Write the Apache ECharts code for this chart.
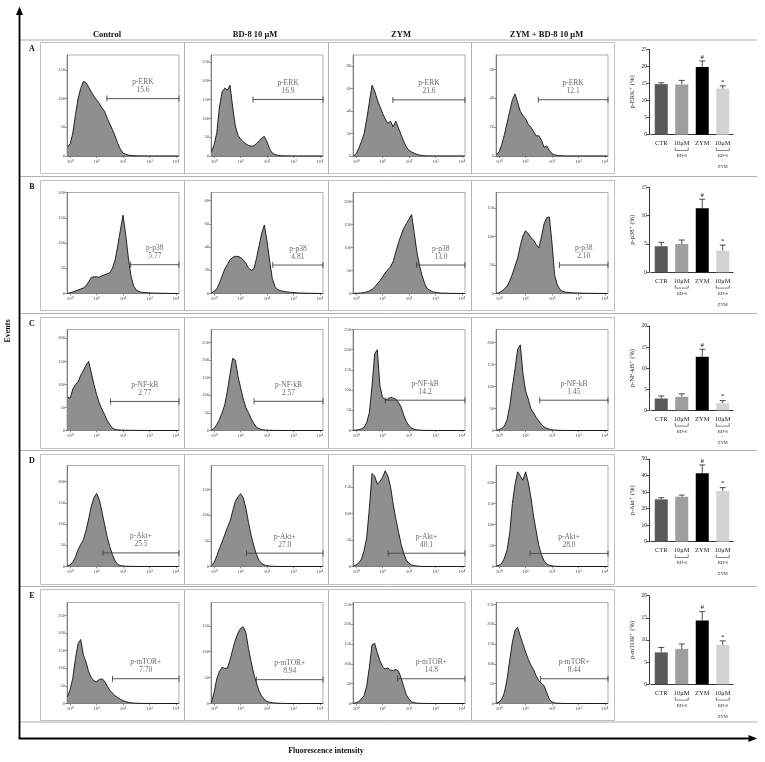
<!DOCTYPE html>
<html>
<head>
<meta charset="utf-8">
<script src="https://cdn.jsdelivr.net/npm/echarts@6/dist/echarts.min.js"></script>
<style>html,body{margin:0;padding:0;background:#fff;}#chart{width:765px;height:762px;}</style>
</head>
<body>
<div id="chart"></div>
<script>
// ---------------- DATA ----------------
// shared log10 fluorescence positions for the histograms
const logGrid = [-0.1,0,0.1,0.2,0.3,0.4,0.5,0.6,0.7,0.8,0.9,1.0,1.1,1.2,1.3,1.4,1.5,1.6,1.7,1.8,1.9,2.0,2.1,2.2,2.3,2.4,2.5,2.6,2.7,2.9,3.2,3.6,4.1];

const erkControl = [16,21,40,72,100,118,130,128,120,112, 104,98,92,84,78,66,56,46,35,22, 12,5,3,1.5,1,0.5,0.3,0.2,0.1, 0,0,0,0];
const erkBD8     = [11,30,62,130,170,180,175,188,130,80, 55,45,38,32,28,26,27,33,40,48, 52,38,18,8,4,2,1,0.5,0.3, 0.2,0,0,0];
const erkZYM     = [0,2,7,13,20,33,48,63,58,50, 44,38,33,29,31,26,31,25,19,13, 8,5,3.5,2.5,1.5,0.8,0.4,0.2,0.1, 0,0,0,0];
const erkCombo   = [1,3,8,15,23,31,39,43,37,31, 28,26,22,20,17,14,14,11,6,7, 4,1.5,0.8,0.4,0.2,0.1,0,0,0, 0,0,0,0];

const p38Control = [0.5,1.5,3,5,7,9,11,15,23,32, 33,33,32,35,37,39,41,50,66,94, 125,155,118,72,35,15,7,4,2.5, 1.5,0.8,0.3,0];
const p38BD8     = [0.5,2,4,9,15,21,25,29,31,32, 32,31,29,26,22,20,21,30,41,52, 59,45,28,13,6,3.5,2.5,2,1.5, 1,0.5,0.2,0];
const p38ZYM     = [0.3,0.5,0.8,1.2,2,3.5,5.5,9,14,21, 28,36,45,52,58,70,90,110,127,142, 152,162,172,131,90,60,38,20,10, 3.5,1,0.3,0];
const p38Combo   = [0.5,1.5,4,8,13,22,34,48,62,84, 101,110,105,98,94,86,80,99,122,133, 134,88,32,15,7,4,2.5,2,1.5, 1,0.5,0.2,0];

const nfkbControl = [72,70,90,100,105,120,130,142,150,125, 100,78,60,46,35,22,13,5,2.5,1.5, 1,0.8,0.6,0.5,0.4,0.3,0.3,0.2,0.2, 0.1,0,0,0];
const nfkbBD8     = [1,6,17,32,50,73,112,160,205,200, 155,122,90,65,50,34,20,10,5,3, 1.5,1,0.6,0.4,0.3,0.2,0.1,0,0, 0,0,0,0];
const nfkbZYM     = [0.5,1,2,4,8,20,45,110,190,200, 110,82,76,78,82,80,78,70,58,38, 22,12,6,3,1.5,1,0.5,0.3,0.2, 0.1,0,0,0];
const nfkbCombo   = [0.5,2,5,10,25,55,100,140,185,195, 130,90,72,50,40,30,22,14,8,5, 3,1.5,1,0.5,0.3,0.2,0.1,0,0, 0,0,0,0];

const aktControl = [1,4,10,22,40,52,63,85,112,142, 162,172,158,130,100,70,47,28,13,5, 2.5,1.2,0.8,0.5,0.3,0.2,0.1,0,0, 0,0,0,0];
const aktBD8     = [2,8,21,35,48,62,76,88,108,127, 136,142,134,114,86,61,40,24,12,6, 3,1.5,1,0.6,0.3,0.2,0.1,0,0, 0,0,0,0];
const aktZYM     = [1,3,7,14,30,55,110,175,170,155, 160,168,180,170,150,118,90,66,42,25, 12,6,3,1.5,0.8,0.4,0.2,0.1,0, 0,0,0,0];
const aktCombo   = [1,3,8,20,40,80,150,195,225,215, 205,225,200,165,120,85,50,28,14,6, 3,1.5,0.8,0.4,0.2,0.1,0,0,0, 0,0,0,0];

const mtorControl = [19,40,72,128,170,182,138,118,90,74, 64,62,68,70,64,50,38,30,22,17, 12,8,5.5,3.5,2,1.2,0.8,0.5,0.3, 0.2,0,0,0];
const mtorBD8     = [2,22,48,62,70,68,68,84,104,122, 136,145,148,137,106,80,57,40,24,14, 8,4,2.5,1.5,1,0.6,0.3,0.2,0.1, 0,0,0,0];
const mtorZYM     = [0.5,2,5,12,20,45,92,148,152,128, 108,93,87,90,84,83,86,82,65,43, 22,11,4.5,2,1,0.6,0.3,0.2,0.1, 0,0,0,0];
const mtorCombo   = [1,4,11,28,62,110,155,185,192,170, 150,130,112,97,86,70,58,51,45,28, 11,4,1.5,0.8,0.5,0.3,0.1,0,0, 0,0,0,0];

// histogram count-axis ranges and tick steps
const histYMax  = [[176,268,90,70],[200,87,220,177],[219,287,250,230],[238,197,190,240],[287,195,255,255]];
const histYStep = [[50,50,20,20],[50,20,50,50],[50,50,50,50],[50,50,50,50],[50,50,50,50]];

// gates: start (log10) and level (count), percentages
const gateStart = [[1.39,1.47,1.39,1.48],[2.29,2.22,2.29,2.28],[1.53,1.51,1.1,1.54],[1.24,1.22,1.21,1.17],[1.6,1.6,1.57,1.56]];
const gateLevel = [[100,150,50,39],[57,24.5,62,50],[63,83,75,69],[32,26,25,31],[70.5,46,62.5,62.5]];
const gatePct = [["15.6","16.9","21.6","12.1"],["5.77","4.81","13.0","2.10"],["2.77","2.57","14.2","1.45"],["25.5","27.0","40.1","28.0"],["7.70","8.94","14.8","8.44"]];
const markers = ["p-ERK","p-p38","p-NF-kB","p-Akt+","p-mTOR+"];

const columnHeaders = ["Control","BD-8 10 μM","ZYM","ZYM + BD-8 10 μM"];
const rowLetters = ["A","B","C","D","E"];
const decades = [0,1,2,3,4];
const decadeLabels = ["10⁰","10¹","10²","10³","10⁴"];

// bar charts
const barCategories = ['CTR','10μM','ZYM','10μM'];
const barSubLabels = ['', 'BD-8', '', 'BD-8\n+\nZYM'];
const barTitles = ['p-ERK⁺ (%)','p-p38⁺ (%)','p-NF-kB⁺ (%)','p-Akt⁺ (%)','p-mTOR⁺ (%)'];
const erkMean = [14.8,14.7,19.8,13.5],  erkErr = [0.4,1.2,1.8,0.8];
const p38Mean = [4.6,5.0,11.3,3.8],     p38Err = [0.7,0.7,1.6,1.0];
const nfkbMean = [2.8,3.2,12.7,1.7],    nfkbErr = [0.6,0.7,1.8,0.6];
const aktMean = [25.6,27.2,41.4,30.7],  aktErr = [1.0,1.0,5.0,2.0];
const mtorMean = [7.2,8.0,14.4,8.9],    mtorErr = [1.1,1.1,2.0,0.9];
const sigMarks = ['','','#','*'];
const barAxisMax = [25,15,20,50,20];
const barAxisStep = [5,5,5,10,5];

// ---------------- LAYOUT / STYLE ----------------
const FONT = '"Liberation Serif","DejaVu Serif",serif';
const hist = [
  [erkControl, erkBD8, erkZYM, erkCombo],
  [p38Control, p38BD8, p38ZYM, p38Combo],
  [nfkbControl, nfkbBD8, nfkbZYM, nfkbCombo],
  [aktControl, aktBD8, aktZYM, aktCombo],
  [mtorControl, mtorBD8, mtorZYM, mtorCombo]
];
const means = [erkMean, p38Mean, nfkbMean, aktMean, mtorMean];
const errs = [erkErr, p38Err, nfkbErr, aktErr, mtorErr];
const barColors = ['#5a5a5a','#9e9e9e','#000000','#d3d3d3'];

const cellX = [40, 184, 328, 471];
const cellW = [144, 144, 143, 143];
const plotOff = [27, 27, 25, 25];
const cellTop = [42, 180, 317, 454, 589];
const cellBot = [173, 310, 448, 584, 720];
const plotTop = [55, 192.5, 329.5, 465.5, 602.5];
const barTop = [49.3, 187.3, 326, 459, 595.7];
const barBot = [134.7, 272.3, 410.3, 541.7, 684.3];
const sepY = [40, 176.5, 313.5, 450.5, 586.5, 722];
const X_MIN = -0.12, X_MAX = 4.12;

const option = { animation: false, grid: [], xAxis: [], yAxis: [], series: [], graphic: [] };
let g = 0;
const axisCol = '#555';

for (let r = 0; r < 5; r++) {
  for (let c = 0; c < 4; c++) {
    option.grid.push({ left: cellX[c] + plotOff[c], top: plotTop[r], width: 112, height: 101,
      show: true, borderColor: '#8a8a8a', borderWidth: 0.7, backgroundColor: 'rgba(0,0,0,0)' });
    const ticks = [];
    for (let t = 0; t <= histYMax[r][c] + 1e-9; t += histYStep[r][c]) ticks.push(t);
    option.xAxis.push({ type: 'value', gridIndex: g, min: X_MIN, max: X_MAX,
      splitLine: { show: false },
      axisLine: { show: true, onZero: false, lineStyle: { color: axisCol, width: 0.7 } },
      axisTick: { show: true, customValues: decades, length: 2, lineStyle: { color: axisCol, width: 0.6 } },
      axisLabel: { customValues: decades, formatter: v => decadeLabels[Math.round(v)], fontSize: 5, color: '#444', margin: 3, fontFamily: FONT }
    });
    option.yAxis.push({ type: 'value', gridIndex: g, min: 0, max: histYMax[r][c],
      splitLine: { show: false },
      axisLine: { show: true, onZero: false, lineStyle: { color: axisCol, width: 0.7 } },
      axisTick: { show: true, customValues: ticks, length: 2, lineStyle: { color: axisCol, width: 0.6 } },
      axisLabel: { customValues: ticks, fontSize: 4.5, color: '#444', margin: 2, fontFamily: FONT }
    });
    option.series.push({ type: 'line', xAxisIndex: g, yAxisIndex: g, silent: true,
      data: logGrid.map((x, i) => [x, hist[r][c][i]]), symbol: 'none',
      lineStyle: { color: '#111', width: 0.9 }, areaStyle: { color: '#8f8f8f', opacity: 1 } });
    option.series.push({ type: 'line', xAxisIndex: g, yAxisIndex: g, silent: true, clip: false,
      data: [[gateStart[r][c], gateLevel[r][c]], [X_MAX, gateLevel[r][c]]],
      symbol: 'rect', symbolSize: [0.9, 6], showSymbol: true,
      itemStyle: { color: '#444' }, lineStyle: { color: '#444', width: 0.9 } });
    option.series.push({ type: 'scatter', xAxisIndex: g, yAxisIndex: g, silent: true,
      data: [[(gateStart[r][c] + X_MAX) / 2, gateLevel[r][c]]], symbolSize: 1,
      itemStyle: { color: 'rgba(0,0,0,0)' },
      label: { show: true, position: 'top', distance: 4, formatter: markers[r] + '\n' + gatePct[r][c],
        fontSize: 7.5, lineHeight: 8, color: '#444', fontFamily: FONT } });
    g++;
  }
}

// bar charts
for (let r = 0; r < 5; r++) {
  option.grid.push({ left: 651, width: 82, top: barTop[r], height: barBot[r] - barTop[r] });
  option.xAxis.push({ type: 'category', gridIndex: g, data: barCategories,
    axisLine: { lineStyle: { color: '#000', width: 0.8 } },
    axisTick: { alignWithLabel: true, length: 2, lineStyle: { color: '#000', width: 0.7 } },
    axisLabel: { interval: 0, margin: 4, color: '#222', fontFamily: FONT,
      formatter: (v, i) => {
        let s = '{m|' + v + '}';
        if (barSubLabels[i]) s += '\n{g| }\n' + barSubLabels[i].split('\n').map(t => '{s|' + t + '}').join('\n');
        return s;
      },
      rich: { m: { fontSize: 6.5, lineHeight: 9, fontFamily: FONT, color: '#222' },
              g: { fontSize: 4, lineHeight: 5.3 },
              s: { fontSize: 4.5, lineHeight: 5.5, fontFamily: FONT, color: '#333' } } }
  });
  option.yAxis.push({ type: 'value', gridIndex: g, min: 0, max: barAxisMax[r], interval: barAxisStep[r], offset: 2,
    name: barTitles[r], nameLocation: 'middle', nameGap: 13,
    nameTextStyle: { fontSize: 6.5, fontFamily: FONT, color: '#222' },
    splitLine: { show: false },
    axisLine: { show: true, lineStyle: { color: '#000', width: 0.8 } },
    axisTick: { show: true, length: 2.5, lineStyle: { color: '#000', width: 0.7 } },
    axisLabel: { fontSize: 5.5, margin: 2, color: '#222', fontFamily: FONT }
  });
  option.series.push({ type: 'bar', xAxisIndex: g, yAxisIndex: g, barWidth: 13, silent: true,
    data: means[r].map((m, i) => ({ value: m, itemStyle: { color: barColors[i] } })) });
  const er = errs[r];
  option.series.push({ type: 'custom', xAxisIndex: g, yAxisIndex: g, silent: true, clip: false,
    data: means[r].map((m, i) => [i, m, er[i]]),
    renderItem: (params, api) => {
      const i = api.value(0), m = api.value(1), e = api.value(2);
      const base = api.coord([i, m]);
      const top = api.coord([i, m + e]);
      const children = [
        { type: 'line', shape: { x1: base[0], y1: base[1], x2: top[0], y2: top[1] }, style: { stroke: '#222', lineWidth: 0.8 } },
        { type: 'line', shape: { x1: top[0] - 3, y1: top[1], x2: top[0] + 3, y2: top[1] }, style: { stroke: '#222', lineWidth: 0.8 } }
      ];
      const mark = sigMarks[params.dataIndex];
      if (mark) children.push({ type: 'text', x: top[0], y: top[1] - 0.5,
        style: { text: mark, font: '7px ' + FONT, fill: '#111', align: 'center', verticalAlign: 'bottom' } });
      return { type: 'group', children };
    } });
  option.series.push({ type: 'custom', xAxisIndex: g, yAxisIndex: g, silent: true, clip: false,
    data: barSubLabels.map((s, i) => [i, s ? 1 : 0]).filter(d => d[1]),
    renderItem: (params, api) => {
      const p = api.coord([api.value(0), 0]);
      return { type: 'polyline', shape: { points: [[p[0] - 6.5, p[1] + 12.8], [p[0] - 6.5, p[1] + 15.8], [p[0] + 6.5, p[1] + 15.8], [p[0] + 6.5, p[1] + 12.8]] },
        style: { stroke: '#333', lineWidth: 0.6, fill: null } };
    } });
  g++;
}

// ---------------- FRAME GRAPHICS ----------------
const G = option.graphic;
sepY.forEach(y => G.push({ type: 'line', silent: true, shape: { x1: 20, y1: y, x2: 757, y2: y }, style: { stroke: '#9a9a9a', lineWidth: 0.8 } }));
for (let r = 0; r < 5; r++) {
  for (let c = 0; c < 4; c++) {
    G.push({ type: 'rect', silent: true, shape: { x: cellX[c] + 0.5, y: cellTop[r] + 0.5, width: cellW[c], height: cellBot[r] - cellTop[r] },
      style: { fill: null, stroke: '#b0b0b0', lineWidth: 0.8 } });
  }
  G.push({ type: 'text', silent: true, x: 32, y: cellTop[r] + 7,
    style: { text: rowLetters[r], font: 'bold 8px ' + FONT, fill: '#111', align: 'center', verticalAlign: 'middle' } });
}
const headerX = [107, 255, 401, 546.5];
columnHeaders.forEach((h, i) => G.push({ type: 'text', silent: true, x: headerX[i], y: 34.5,
  style: { text: h, font: 'bold 8.5px ' + FONT, fill: '#111', align: 'center', verticalAlign: 'middle' } }));
// axes arrows
G.push({ type: 'line', silent: true, shape: { x1: 19.5, y1: 739, x2: 19.5, y2: 12 }, style: { stroke: '#000', lineWidth: 1.8 } });
G.push({ type: 'polygon', silent: true, shape: { points: [[19.5, 6.5], [16, 15], [23, 15]] }, style: { fill: '#000' } });
G.push({ type: 'line', silent: true, shape: { x1: 18.6, y1: 738.5, x2: 750, y2: 738.5 }, style: { stroke: '#000', lineWidth: 1.8 } });
G.push({ type: 'polygon', silent: true, shape: { points: [[757, 738.5], [748.5, 735], [748.5, 742]] }, style: { fill: '#000' } });
G.push({ type: 'text', silent: true, x: 8, y: 331, rotation: Math.PI / 2,
  style: { text: 'Events', font: 'bold 8px ' + FONT, fill: '#111', align: 'center', verticalAlign: 'middle' } });
G.push({ type: 'text', silent: true, x: 326, y: 751,
  style: { text: 'Fluorescence intensity', font: 'bold 8px ' + FONT, fill: '#111', align: 'center', verticalAlign: 'middle' } });

const chart = echarts.init(document.getElementById('chart'), null, { renderer: 'canvas', width: 765, height: 762 });
chart.setOption(option);
</script>
</body>
</html>
